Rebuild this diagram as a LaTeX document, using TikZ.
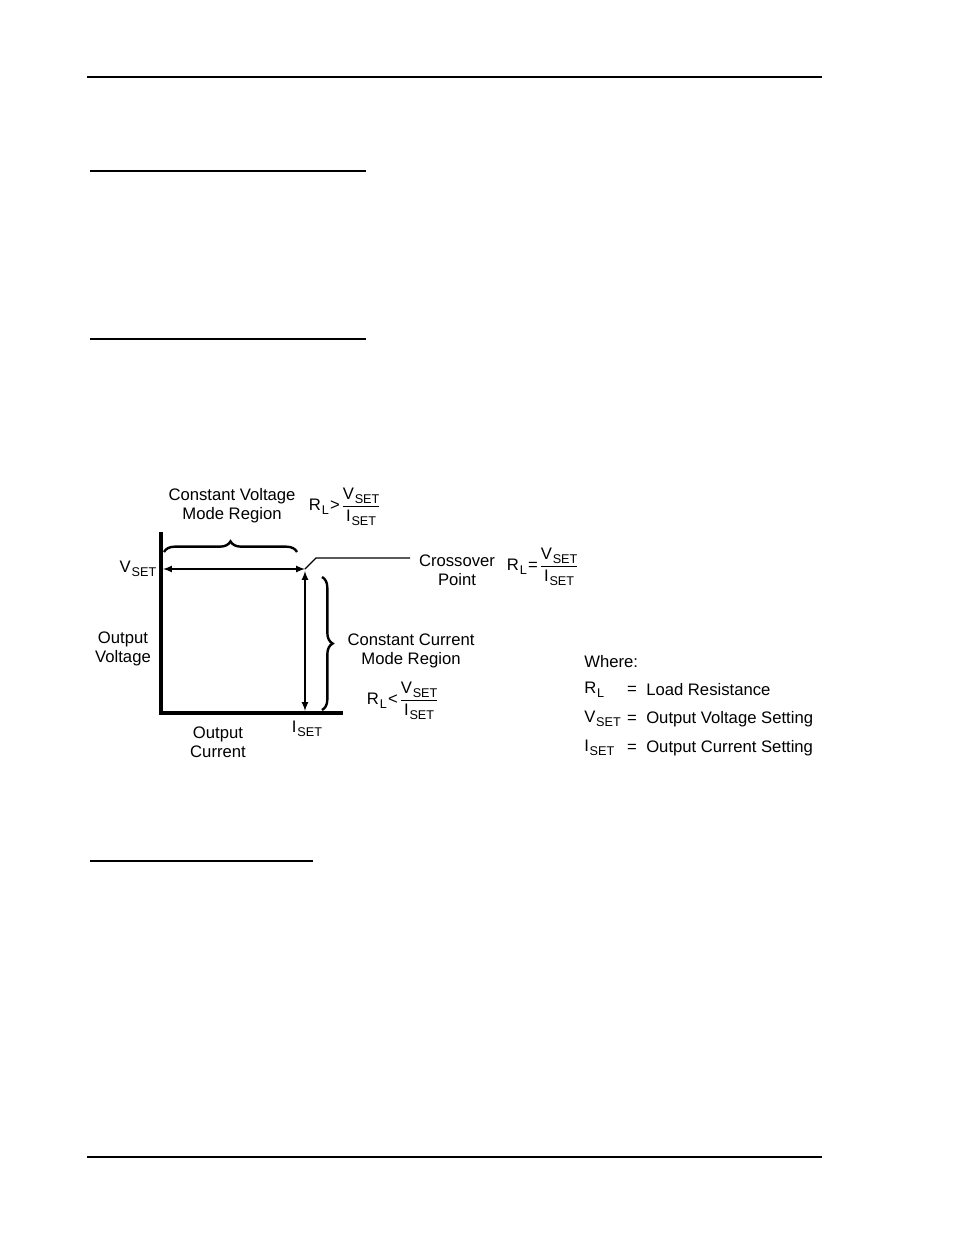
\documentclass[tikz,border=0pt]{standalone}
\usepackage{amsmath}
\usepackage{fontspec}
\setmainfont{Liberation Sans}
\usetikzlibrary{decorations.pathreplacing}
\newcommand{\sub}[1]{\kern0.6pt\raisebox{-0.45ex}{\fontsize{9.5}{10}\selectfont #1}}
\newcommand{\rlratio}[1]{R\sub{L}\kern1pt#1\kern1pt$\dfrac{\text{V\sub{SET}}}{\text{I\sub{SET}}}$}
\tikzset{
  lbl/.style={font=\fontsize{12.5}{14.5}\selectfont, inner sep=0pt, align=center},
  rulel/.style={line width=0.9pt},
  axis/.style={line width=2.6pt},
  dimarr/.style={line width=1.3pt, <->, >=latex},
  brc/.style={line width=1.8pt, decorate, decoration={brace, amplitude=8}}
}
\begin{document}
\begin{tikzpicture}[x=0.75pt, y=-0.75pt]
  \useasboundingbox (0,0) rectangle (954,1235);
  % page rules
  \draw[rulel] (87,77) -- (822,77);
  \draw[rulel] (87,1157) -- (822,1157);
  \draw[rulel] (90,171) -- (366,171);
  \draw[rulel] (90,339) -- (366,339);
  \draw[rulel] (90,861) -- (313,861);
  % axes
  \coordinate (orig) at (161,713);
  \coordinate (ytop) at (161,532);
  \coordinate (xend) at (343,713);
  \coordinate (cross) at (305,569);
  \draw[axis] (ytop) -- (orig) -- (xend);
  \draw[dimarr] (163,569) -- (cross);
  \draw[dimarr] (305,571) -- (305,711);
  % braces
  \draw[brc] (164,552) -- (297,552);
  \draw[brc] (322,577) -- (322,710);
  % leader
  \draw[line width=0.9pt] (cross) -- (316,558) -- (410,558);
  % labels
  \node[lbl] (cvm) at (232,506) {Constant Voltage\\Mode Region};
  \node[lbl] (cvr) at (345,507) {\rlratio{>}};
  \node[lbl] (xpt) at (457,570) {Crossover\\Point};
  \node[lbl] (xr) at (543,567) {\rlratio{=}};
  \node[lbl] (ccm) at (411,651) {Constant Current\\Mode Region};
  \node[lbl] (ccr) at (403,701) {\rlratio{<}};
  \node[lbl] (vset) at (138,569) {V\sub{SET}};
  \node[lbl] (ovolt) at (123,649) {Output\\Voltage};
  \node[lbl] (iset) at (307,729) {I\sub{SET}};
  \node[lbl] (ocur) at (218,742) {Output\\Current};
  % legend
  \node[lbl, anchor=west] (where) at (584,662) {Where:};
  \foreach \s/\d/\y [count=\i] in {R\sub{L}/Load Resistance/690, V\sub{SET}/Output Voltage Setting/719, I\sub{SET}/Output Current Setting/748} {
    \node[lbl, anchor=west] (sym\i) at (584,\y) {\s};
    \node[lbl] (eq\i) at (632,\y) {=};
    \node[lbl, anchor=west] (desc\i) at (646,\y) {\d};
  }
\end{tikzpicture}
\end{document}
